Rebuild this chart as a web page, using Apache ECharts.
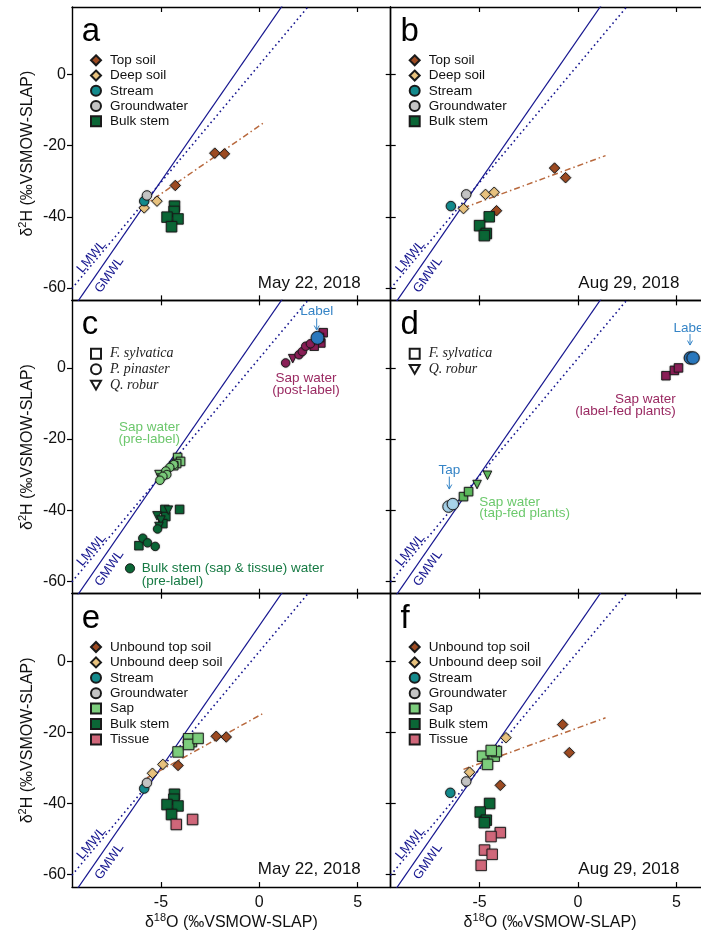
<!DOCTYPE html>
<html><head><meta charset="utf-8">
<script src="https://cdn.jsdelivr.net/npm/echarts@6/dist/echarts.min.js"></script>
<style>html,body{margin:0;padding:0;background:#fff}#c{width:701px;height:934px}</style>
</head><body><div id="c"></div>
<script>
// ---------- axes ----------
const xTicks = [-5, 0, 5];
const yTicks = [-60, -40, -20, 0];
const XMIN = -9.52, XMAX = 6.68, YMIN = -63.5, YMAX = 19.0;

// ---------- reference lines (endpoints) ----------
const gmwlLine = [[-10, -70], [2, 26]];
const lmwlLine = [[-10, -63.3], [3, 22.5]];

// ---------- panel a (May 22, 2018) ----------
const aTopSoil = [[-2.26, -22.1], [-1.77, -22.3], [-4.27, -31.2]];
const aDeepSoil = [[-5.20, -35.6], [-5.85, -37.5]];
const aStream = [[-5.85, -35.6]];
const aGroundwater = [[-5.71, -34.0]];
const aBulkStem = [[-4.31, -37.0], [-4.33, -38.5], [-4.69, -40.1], [-4.13, -40.6], [-4.46, -42.8]];
const aEvapLine = [[-5.9, -37.0], [0.27, -13.4]];

// ---------- panel b (Aug 29, 2018) ----------
const bTopSoil = [[-1.19, -26.3], [-0.63, -29.0], [-4.14, -38.3]];
const bDeepSoil = [[-4.70, -33.7], [-4.26, -33.1], [-5.82, -37.7]];
const bStream = [[-6.46, -37.0]];
const bGroundwater = [[-5.68, -33.7]];
const bBulkStem = [[-4.51, -40.0], [-5.00, -42.5], [-4.66, -44.7], [-4.76, -45.3]];
const bEvapLine = [[-5.82, -37.5], [1.40, -22.8]];

// ---------- panel c (labelling, May) ----------
const cPreSapF = [[-4.15, -25.2], [-4.00, -26.3], [-4.20, -26.9], [-4.35, -27.5]];
const cPreSapP = [[-4.35, -27.2], [-4.55, -28.0], [-4.75, -29.0], [-4.70, -30.0], [-4.90, -30.5], [-5.05, -31.6]];
const cPreSapQ = [[-5.10, -30.0], [-5.00, -31.0]];
const cBulkF = [[-4.05, -39.8], [-4.80, -39.8], [-4.75, -41.8], [-4.90, -43.8], [-6.12, -50.0]];
const cBulkP = [[-5.92, -47.9], [-5.68, -49.2], [-5.29, -50.2], [-5.17, -45.3]];
const cBulkQ = [[-4.62, -40.0], [-5.20, -41.6], [-5.00, -42.8], [-5.10, -44.6]];
const cPostF = [[3.25, 9.9], [3.13, 7.0], [2.79, 6.1], [3.05, 8.5]];
const cPostP = [[1.34, 1.4], [2.02, 3.7], [2.19, 4.6], [2.36, 6.1], [2.60, 6.8]];
const cPostQ = [[1.70, 2.6], [2.90, 8.0]];
const cLabel = [[2.96, 8.45]];

// ---------- panel d (labelling, Aug) ----------
const dTap = [[-6.58, -39.0], [-6.36, -38.3]];
const dTapSapF = [[-5.82, -36.2], [-5.56, -34.8]];
const dTapSapQ = [[-5.13, -32.8], [-4.60, -30.2]];
const dLabelSapF = [[4.47, -2.2], [4.90, -0.7], [5.11, 0.0]];
const dLabel = [[5.71, 2.8], [5.85, 2.8]];

// ---------- panel e (May 22, 2018) ----------
const eTopSoil = [[-2.19, -21.1], [-1.68, -21.3], [-4.13, -29.3]];
const eDeepSoil = [[-4.90, -29.0], [-5.43, -31.5]];
const eStream = [[-5.85, -35.8]];
const eGroundwater = [[-5.71, -34.2]];
const eSap = [[-4.13, -25.5], [-3.45, -22.6], [-3.59, -21.8], [-3.59, -23.4], [-3.11, -21.7]];
const eBulkStem = [[-4.31, -37.4], [-4.34, -38.8], [-4.69, -40.3], [-4.13, -40.7], [-4.46, -43.1]];
const eTissue = [[-4.22, -45.9], [-3.39, -44.5]];
const eEvapLine = [[-5.71, -32.8], [0.15, -14.8]];

// ---------- panel f (Aug 29, 2018) ----------
const fTopSoil = [[-0.78, -17.8], [-0.44, -25.7], [-3.95, -34.9]];
const fDeepSoil = [[-3.66, -21.5], [-5.51, -31.2]];
const fStream = [[-6.49, -37.0]];
const fGroundwater = [[-5.68, -33.8]];
const fSap = [[-4.85, -26.7], [-4.26, -26.7], [-4.15, -25.4], [-4.41, -25.1], [-4.60, -29.0]];
const fBulkStem = [[-4.49, -40.0], [-4.97, -42.4], [-4.66, -44.7], [-4.76, -45.4]];
const fTissue = [[-3.95, -48.2], [-4.42, -49.3], [-4.75, -53.1], [-4.36, -54.3], [-4.92, -57.4]];
const fEvapLine = [[-5.82, -30.4], [1.40, -15.9]];

// ---------- style / layout ----------
const FONT = 'Liberation Sans';
const C = {
  top: '#9d4b22', deep: '#e8c27e', stream: '#138a8c', ground: '#c4c4c4', bulk: '#0b6636',
  sap: '#7ccd7c', tissue: '#d0677a', post: '#8a1f57', label: '#2a78bd', tap: '#a8d3ea',
  tapSap: '#5dba5d', mwl: '#16168f', evap: '#b8693e'
};
const TRI = 'path://M0,0L10,0L5,8.66Z';
const GL = [72, 390.7], GW = 318.7, GT = [7, 300.35, 593.7], GH = 293.35;

const grids = [], xAxes = [], yAxes = [], series = [], graphics = [];
const axLine = { show: true, onZero: false, lineStyle: { color: '#000', width: 1.4 } };
const tickStyle = { color: '#000', width: 1.2 };

for (let g = 0; g < 6; g++) {
  const col = g % 2, row = Math.floor(g / 2);
  grids.push({ left: GL[col], top: GT[row], width: GW, height: GH, containLabel: false, outerBoundsMode: 'none' });
  xAxes.push({
    gridIndex: g, type: 'value', min: XMIN, max: XMAX, position: 'bottom',
    axisLine: axLine, splitLine: { show: false },
    axisTick: { show: true, inside: true, length: 5, customValues: xTicks, lineStyle: tickStyle },
    axisLabel: { show: row === 2, customValues: xTicks, margin: 8, fontSize: 16, color: '#111', fontFamily: FONT },
    name: row === 2 ? '{t|δ}{s|18}{t|O (‰VSMOW-SLAP)}' : '',
    nameLocation: 'middle', nameGap: 25,
    nameTextStyle: { color: '#111', fontFamily: FONT, fontSize: 16,
      rich: { t: { fontSize: 16, lineHeight: 22, fontFamily: FONT, color: '#111' },
              s: { fontSize: 11, lineHeight: 11, verticalAlign: 'top', fontFamily: FONT, color: '#111' } } }
  });
  xAxes.push({
    gridIndex: g, type: 'value', min: XMIN, max: XMAX, position: 'top',
    axisLine: axLine, splitLine: { show: false },
    axisTick: { show: true, inside: true, length: 5, customValues: xTicks, lineStyle: tickStyle },
    axisLabel: { show: false }
  });
  yAxes.push({
    gridIndex: g, type: 'value', min: YMIN, max: YMAX, position: 'left',
    axisLine: axLine, splitLine: { show: false },
    axisTick: { show: true, inside: col === 1, length: 5, customValues: yTicks, lineStyle: tickStyle },
    axisLabel: { show: col === 0, customValues: yTicks, margin: 6, fontSize: 16, color: '#111', fontFamily: FONT },
    name: col === 0 ? '{t|δ}{s|2}{t|H (‰VSMOW-SLAP)}' : '',
    nameLocation: 'middle', nameGap: 33,
    nameTextStyle: { color: '#111', fontFamily: FONT, fontSize: 16,
      rich: { t: { fontSize: 16, lineHeight: 22, fontFamily: FONT, color: '#111' },
              s: { fontSize: 11, lineHeight: 11, verticalAlign: 'top', fontFamily: FONT, color: '#111' } } }
  });
  yAxes.push({
    gridIndex: g, type: 'value', min: YMIN, max: YMAX, position: 'right',
    axisLine: axLine, splitLine: { show: false },
    axisTick: { show: true, inside: true, length: 5, customValues: yTicks, lineStyle: tickStyle },
    axisLabel: { show: false }
  });
}

function ln(data, g, style) {
  return { type: 'line', data, xAxisIndex: 2 * g, yAxisIndex: 2 * g, showSymbol: false, symbol: 'none',
    lineStyle: style, z: 2, silent: true, clip: true, animation: false };
}
function sc(name, data, g, symbol, size, color, bw) {
  return { type: 'scatter', name, data, xAxisIndex: 2 * g, yAxisIndex: 2 * g, symbol, symbolSize: size,
    itemStyle: { color, borderColor: '#1a1a1a', borderWidth: bw === undefined ? 0.9 : bw, opacity: 1,
      shadowBlur: data.length ? 1.5 : 0, shadowColor: 'rgba(0,0,0,0.35)' },
    z: 3, silent: true, animation: false };
}
const gmwlStyle = { color: C.mwl, width: 1.2, type: 'solid' };
const lmwlStyle = { color: C.mwl, width: 1.6, type: [1.6, 3.2] };
const evapStyle = { color: C.evap, width: 1.5, type: [6, 3, 1.5, 3] };

for (let g = 0; g < 6; g++) {
  series.push(ln(gmwlLine, g, gmwlStyle));
  series.push(ln(lmwlLine, g, lmwlStyle));
}
series.push(ln(aEvapLine, 0, evapStyle));
series.push(ln(bEvapLine, 1, evapStyle));
series.push(ln(eEvapLine, 4, evapStyle));
series.push(ln(fEvapLine, 5, evapStyle));

// panel a
series.push(sc('Top soil', aTopSoil, 0, 'diamond', 10.5, C.top));
series.push(sc('Deep soil', aDeepSoil, 0, 'diamond', 10.5, C.deep));
series.push(sc('Stream', aStream, 0, 'circle', 9.5, C.stream));
series.push(sc('Groundwater', aGroundwater, 0, 'circle', 9.5, C.ground));
series.push(sc('Bulk stem', aBulkStem, 0, 'rect', 10.5, C.bulk));
// panel b
series.push(sc('Top soil', bTopSoil, 1, 'diamond', 10.5, C.top));
series.push(sc('Deep soil', bDeepSoil, 1, 'diamond', 10.5, C.deep));
series.push(sc('Stream', bStream, 1, 'circle', 9.5, C.stream));
series.push(sc('Groundwater', bGroundwater, 1, 'circle', 9.5, C.ground));
series.push(sc('Bulk stem', bBulkStem, 1, 'rect', 10.5, C.bulk));
// panel c
series.push(sc('F. sylvatica', [], 2, 'rect', 10, '#fff', 1));
series.push(sc('P. pinaster', [], 2, 'circle', 10, '#fff', 1));
series.push(sc('Q. robur', [], 2, TRI, 10, '#fff', 1));
series.push(sc('c-bulkF', cBulkF, 2, 'rect', 8.5, C.bulk));
series.push(sc('c-bulkQ', cBulkQ, 2, TRI, 8.5, C.bulk));
series.push(sc('c-bulkP', cBulkP, 2, 'circle', 8.5, C.bulk));
series.push(sc('c-preF', cPreSapF, 2, 'rect', 8.5, C.sap));
series.push(sc('c-preQ', cPreSapQ, 2, TRI, 8.5, C.sap));
series.push(sc('c-preP', cPreSapP, 2, 'circle', 8.5, C.sap));
series.push(sc('c-postF', cPostF, 2, 'rect', 8.5, C.post));
series.push(sc('c-postQ', cPostQ, 2, TRI, 8.5, C.post));
series.push(sc('c-postP', cPostP, 2, 'circle', 8.5, C.post));
series.push(sc('c-label', cLabel, 2, 'circle', 13, C.label));
// panel d
series.push(sc('d-tap', dTap, 3, 'circle', 11.5, C.tap));
series.push(sc('d-tapF', dTapSapF, 3, 'rect', 8.5, C.tapSap));
series.push(sc('d-tapQ', dTapSapQ, 3, TRI, 8.5, C.tapSap));
series.push(sc('d-labF', dLabelSapF, 3, 'rect', 8.5, C.post));
series.push(sc('d-label', dLabel, 3, 'circle', 12.5, C.label));
// panel e
series.push(sc('Unbound top soil', eTopSoil, 4, 'diamond', 10.5, C.top));
series.push(sc('Unbound deep soil', eDeepSoil, 4, 'diamond', 10.5, C.deep));
series.push(sc('Stream', eStream, 4, 'circle', 9.5, C.stream));
series.push(sc('Groundwater', eGroundwater, 4, 'circle', 9.5, C.ground));
series.push(sc('Bulk stem', eBulkStem, 4, 'rect', 10.5, C.bulk));
series.push(sc('Tissue', eTissue, 4, 'rect', 10.5, C.tissue));
series.push(sc('Sap', eSap, 4, 'rect', 10.5, C.sap));
// panel f
series.push(sc('Unbound top soil', fTopSoil, 5, 'diamond', 10.5, C.top));
series.push(sc('Unbound deep soil', fDeepSoil, 5, 'diamond', 10.5, C.deep));
series.push(sc('Stream', fStream, 5, 'circle', 9.5, C.stream));
series.push(sc('Groundwater', fGroundwater, 5, 'circle', 9.5, C.ground));
series.push(sc('Bulk stem', fBulkStem, 5, 'rect', 10.5, C.bulk));
series.push(sc('Tissue', fTissue, 5, 'rect', 10.5, C.tissue));
series.push(sc('Sap', fSap, 5, 'rect', 10.5, C.sap));

// ---------- legends ----------
function lg(names, col, row, gap, serif) {
  return {
    data: names, orient: 'vertical', left: GL[col] + 18, top: GT[row] + 45.8, padding: 0,
    itemWidth: 10, itemHeight: 10, itemGap: gap, selectedMode: false,
    textStyle: serif
      ? { fontFamily: 'Liberation Serif', fontStyle: 'italic', fontSize: 14, lineHeight: 15, color: '#222', padding: [0, 0, 0, 4] }
      : { fontFamily: FONT, fontSize: 13.5, lineHeight: 15, color: '#111', padding: [0, 0, 0, 4] }
  };
}
const legAB = ['Top soil', 'Deep soil', 'Stream', 'Groundwater', 'Bulk stem'];
const legEF = ['Unbound top soil', 'Unbound deep soil', 'Stream', 'Groundwater', 'Sap', 'Bulk stem', 'Tissue'];
const legends = [
  lg(legAB, 0, 0, 0.25), lg(legAB, 1, 0, 0.25),
  lg(['F. sylvatica', 'P. pinaster', 'Q. robur'], 0, 1, 0.7, true),
  lg(['F. sylvatica', 'Q. robur'], 1, 1, 0.7, true),
  lg(legEF, 0, 2, 0.4), lg(legEF, 1, 2, 0.4)
];

// ---------- annotations ----------
function T(x, y, text, o) {
  return { type: 'text', silent: true, z: 100,
    style: Object.assign({ x, y, text, fill: '#111', fontSize: 13.5, fontFamily: FONT, align: 'left', verticalAlign: 'middle' }, o || {}) };
}
function RT(x, y, text, deg) {
  return { type: 'text', silent: true, z: 100, x, y, rotation: deg * Math.PI / 180,
    style: { x: 0, y: 0, text, fill: C.mwl, fontSize: 13, fontFamily: FONT, align: 'center', verticalAlign: 'middle' } };
}
function arrow(x, y1, y2, color) {
  return [
    { type: 'line', silent: true, z: 100, shape: { x1: x, y1, x2: x, y2 }, style: { stroke: color, lineWidth: 1 } },
    { type: 'polyline', silent: true, z: 100, shape: { points: [[x - 2.5, y2 - 4.5], [x, y2], [x + 2.5, y2 - 4.5]] },
      style: { stroke: color, fill: null, lineWidth: 1 } }
  ];
}
const letters = ['a', 'b', 'c', 'd', 'e', 'f'];
const dates = ['May 22, 2018', 'Aug 29, 2018'];
for (let g = 0; g < 6; g++) {
  const col = g % 2, row = Math.floor(g / 2);
  const L = GL[col], Tp = GT[row];
  graphics.push(T(L + 9.7, Tp + 25, letters[g], { fontSize: 33, fill: '#000' }));
  graphics.push(RT(L + 19.7, Tp + 249.7, 'LMWL', 50));
  graphics.push(RT(L + 37.3, Tp + 268, 'GMWL', 55));
  if (row !== 1) graphics.push(T(L + 288.8, Tp + 276, dates[col], { fontSize: 17, align: 'right', fill: '#111' }));
}
// panel c
{
  const L = GL[0], Tp = GT[1];
  graphics.push(T(L + 244.7, Tp + 11.4, 'Label', { fill: '#3584c6', align: 'center', fontSize: 13.5 }));
  graphics.push(...arrow(L + 244.7, Tp + 18, Tp + 29.7, '#3584c6'));
  graphics.push(T(L + 234, Tp + 84.3, 'Sap water\n(post-label)', { fill: '#9a2a62', align: 'center', lineHeight: 11.8 }));
  graphics.push(T(L + 77.3, Tp + 133.3, 'Sap water\n(pre-label)', { fill: '#6cc76c', align: 'center', lineHeight: 11.8 }));
  graphics.push({ type: 'circle', silent: true, z: 100, shape: { cx: L + 58, cy: Tp + 268, r: 4.6 },
    style: { fill: C.bulk, stroke: '#111', lineWidth: 0.9 } });
  graphics.push(T(L + 69.7, Tp + 274.6, 'Bulk stem (sap & tissue) water\n(pre-label)', { fill: '#167a43', lineHeight: 13.3 }));
}
// panel d
{
  const L = GL[1], Tp = GT[1];
  graphics.push(T(L + 299.3, Tp + 28, 'Label', { fill: '#3584c6', align: 'center', fontSize: 13.5 }));
  graphics.push(...arrow(L + 299.3, Tp + 33.7, Tp + 44.7, '#3584c6'));
  graphics.push(T(L + 285, Tp + 105.2, 'Sap water\n(label-fed plants)', { fill: '#9a2a62', align: 'right', lineHeight: 12 }));
  graphics.push(T(L + 58.6, Tp + 169.7, 'Tap', { fill: '#3584c6', align: 'center', fontSize: 13.5 }));
  graphics.push(...arrow(L + 58.6, Tp + 176.2, Tp + 188.7, '#3584c6'));
  graphics.push(T(L + 88.6, Tp + 207.5, 'Sap water\n(tap-fed plants)', { fill: '#6cc96c', lineHeight: 11.5 }));
}

const chart = echarts.init(document.getElementById('c'), null, { renderer: 'canvas' });
chart.setOption({
  animation: false,
  backgroundColor: '#fff',
  grid: grids, xAxis: xAxes, yAxis: yAxes,
  legend: legends, series, graphic: graphics
});
</script></body></html>
